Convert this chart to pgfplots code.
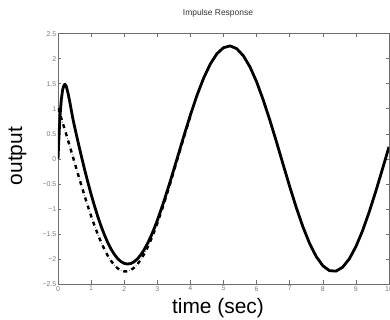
\documentclass[border=0pt]{standalone}
\usepackage{pgfplots}
\pgfplotsset{compat=1.18}
\usepackage{fontspec}
\setmainfont{Liberation Sans}
\definecolor{axgray}{RGB}{110,110,110}
\definecolor{lblgray}{RGB}{125,125,125}
\begin{document}
\begin{tikzpicture}
\useasboundingbox (-58bp,-36bp) rectangle (332bp,284bp);
\begin{axis}[
  at={(0,0)}, anchor=south west,
  scale only axis, width=331bp, height=250.3bp,
  xmin=0, xmax=10, ymin=-2.5, ymax=2.5,
  xtick={0,1,...,10},
  xticklabels={0,1,2,3,4,5,6,7,8,9,10},
  ytick={-2.5,-2,-1.5,-1,-0.5,0,0.5,1,1.5,2,2.5},
  yticklabels={−2.5,−2,−1.5,−1,−0.5,0,0.5,1,1.5,2,2.5},
  xtick pos=both, ytick pos=both,
  tick align=inside,
  major tick length=3.5bp,
  axis line style={axgray, line width=0.9bp},
  tick style={axgray, line width=0.6bp},
  ticklabel style={font=\fontsize{7}{8}\selectfont, text=lblgray, inner sep=1bp},
  yticklabel style={xshift=-0.5bp},
  xticklabel style={yshift=-1bp},
  clip=true,
]
% dash-dot curve (steady-state response), thick dashes + thin dots
\addplot[black, line width=2.4bp, dash pattern=on 4bp off 4.5bp] coordinates {
(0.0,1.015) (0.1,0.810) (0.2,0.597) (0.3,0.377) (0.4,0.154) (0.5,-0.071)
(0.6,-0.295) (0.7,-0.516) (0.8,-0.733) (0.9,-0.941) (1.0,-1.141) (1.1,-1.328)
(1.2,-1.503) (1.3,-1.663) (1.4,-1.805) (1.5,-1.931) (1.6,-2.036) (1.7,-2.122)
(1.8,-2.186) (1.9,-2.228) (2.0,-2.248) (2.1,-2.246) (2.2,-2.221) (2.3,-2.174)
(2.4,-2.105) (2.5,-2.015) (2.6,-1.905) (2.7,-1.776) (2.8,-1.630) (2.9,-1.467)
(3.0,-1.289) (3.2,-0.897) (3.4,-0.469) (3.6,-0.023) (3.8,0.425) (4.0,0.855)
};
\addplot[black!55, line width=0.8bp, dash pattern=on 0.8bp off 7.7bp, dash phase=2.65bp] coordinates {
(0.0,1.015) (0.1,0.810) (0.2,0.597) (0.3,0.377) (0.4,0.154) (0.5,-0.071)
(0.6,-0.295) (0.7,-0.516) (0.8,-0.733) (0.9,-0.941) (1.0,-1.141) (1.1,-1.328)
(1.2,-1.503) (1.3,-1.663) (1.4,-1.805) (1.5,-1.931) (1.6,-2.036) (1.7,-2.122)
(1.8,-2.186) (1.9,-2.228) (2.0,-2.248) (2.1,-2.246) (2.2,-2.221) (2.3,-2.174)
(2.4,-2.105) (2.5,-2.015) (2.6,-1.905) (2.7,-1.776) (2.8,-1.630) (2.9,-1.467)
(3.0,-1.289) (3.2,-0.897) (3.4,-0.469) (3.6,-0.023) (3.8,0.425) (4.0,0.855)
};
% solid curve (impulse response)
\addplot[black, line width=2.8bp, line join=round] coordinates {
(0.0,0.0) (0.03,0.45) (0.06,0.85) (0.1,1.18) (0.14,1.38) (0.18,1.47) (0.21,1.49)
(0.25,1.45) (0.3,1.32) (0.35,1.16) (0.4,0.98) (0.45,0.80)
(0.5,0.645) (0.6,0.353) (0.7,0.070) (0.8,-0.203) (0.9,-0.461) (1.0,-0.707)
(1.1,-0.935) (1.2,-1.148) (1.3,-1.341) (1.4,-1.514) (1.5,-1.668) (1.6,-1.798)
(1.7,-1.906) (1.8,-1.991) (1.9,-2.051) (2.0,-2.088) (2.1,-2.101) (2.2,-2.090)
(2.3,-2.056) (2.4,-1.998) (2.5,-1.918) (2.6,-1.817) (2.7,-1.697) (2.8,-1.558)
(2.9,-1.402) (3.0,-1.230) (3.2,-0.849) (3.4,-0.430) (3.6,0.010) (3.8,0.451)
(4.0,0.877) (4.2,1.270) (4.4,1.613) (4.6,1.893) (4.8,2.099) (5.0,2.221)
(5.2,2.256) (5.4,2.201) (5.6,2.059) (5.8,1.836) (6.0,1.539) (6.2,1.177)
(6.4,0.773) (6.6,0.340) (6.8,-0.109) (7.0,-0.553) (7.2,-0.975) (7.4,-1.359)
(7.6,-1.688) (7.8,-1.950) (8.0,-2.134) (8.2,-2.233) (8.4,-2.243) (8.6,-2.164)
(8.8,-1.998) (9.0,-1.753) (9.2,-1.438) (9.4,-1.064) (9.6,-0.650) (9.8,-0.209)
(10.0,0.240)
};
\end{axis}
\node[anchor=base, font=\fontsize{8.5}{10}\selectfont, text=black!80] at (160bp,268bp) {Impulse Response};
\node[anchor=base, font=\fontsize{21}{24}\selectfont] at (160bp,-29bp) {time (sec)};
\node[anchor=base, rotate=90, font=\fontsize{21}{24}\selectfont] at (-36bp,128bp) {output};
\end{tikzpicture}
\end{document}
